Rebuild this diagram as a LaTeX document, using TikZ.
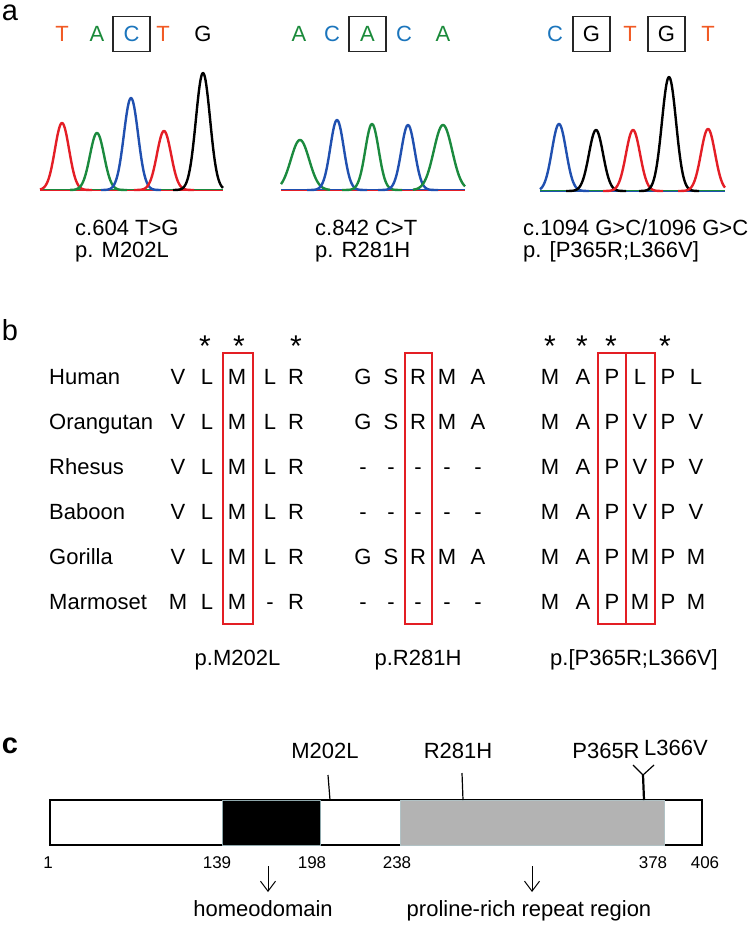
\documentclass[tikz,border=0pt]{standalone}
\usepackage{fontspec}
\setmainfont{Liberation Sans}
\usetikzlibrary{arrows.meta}
\definecolor{tcol}{HTML}{F15A24}
\definecolor{acol}{HTML}{1A8A3A}
\definecolor{ccol}{HTML}{1B75BC}
\definecolor{pkred}{HTML}{E41E26}
\definecolor{pkgreen}{HTML}{1B8A3E}
\definecolor{pkblue}{HTML}{2050B0}
\definecolor{boxred}{HTML}{E31E24}
\definecolor{domgray}{HTML}{B3B3B3}
\definecolor{edgegray}{HTML}{8FA8AC}
\newcommand\pk[7]{%
  \draw[pkline,#1] plot[domain=#5:#6,samples=70,smooth] (\x,{#7-#3*exp(-((\x-#2)/#4)*((\x-#2)/#4))});}
\newcommand\alrow[3]{%
  \node[lt,anchor=west] (sp#1) at (49,#2) {#1};
  \foreach \ch [count=\c from 0] in {#3} {
    \pgfmathsetmacro\xx{{178,207,237,270,296,363,391,418,447,478,550,583,612,640,668,696}[\c]}
    \node[lt] (#1-\c) at (\xx,#2) {\ch};
  }}
\begin{document}
\begin{tikzpicture}[x=1pt,y=-1pt,
  lt/.style={inner sep=0pt,text height=15.75pt,text depth=0pt,font=\fontsize{22}{26}\selectfont},
  txt/.style={inner sep=0pt,anchor=base,font=\fontsize{22}{26}\selectfont},
  num/.style={inner sep=0pt,anchor=base,font=\fontsize{17}{20}\selectfont},
  plabel/.style={inner sep=0pt,anchor=base,font=\fontsize{29}{34}\selectfont},
  ast/.style={inner sep=0pt,anchor=base,font=\fontsize{30}{34}\selectfont},
  seqbox/.style={lt,draw=black!85,line width=1.8pt,minimum width=37pt,minimum height=35pt},
  pkline/.style={line width=2.4pt,line join=round},
  redbox/.style={draw=boxred,line width=1.8pt},
  tick/.style={line width=1.2pt},
  arr/.style={line width=1pt,-{Straight Barb[length=10pt,width=15pt]}}]
\useasboundingbox (0,0) rectangle (751,925);

% ---------------- panel a ----------------
\node[plabel] (la) at (10,21) {a};
% sequence 1
\node[lt,text=tcol] (s1a) at (62,34) {T};
\node[lt,text=acol] (s1b) at (97,34) {A};
\node[seqbox,text=ccol] (s1c) at (131.5,34) {C};
\node[lt,text=tcol] (s1d) at (163,34) {T};
\node[lt] (s1e) at (203,34) {G};
% sequence 2
\node[lt,text=acol] (s2a) at (299,34) {A};
\node[lt,text=ccol] (s2b) at (332,34) {C};
\node[seqbox,text=acol] (s2c) at (367.5,34) {A};
\node[lt,text=ccol] (s2d) at (404,34) {C};
\node[lt,text=acol] (s2e) at (443,34) {A};
% sequence 3
\node[lt,text=ccol] (s3a) at (555,34) {C};
\node[seqbox] (s3b) at (591.5,34) {G};
\node[lt,text=tcol] (s3c) at (630,34) {T};
\node[seqbox] (s3d) at (666.5,34) {G};
\node[lt,text=tcol] (s3e) at (708,34) {T};

% chromatogram 1
\draw[line width=0.8pt,pkgreen] (40,189.3) -- (223,189.3);
\draw[line width=0.8pt,pkblue] (40,190.2) -- (223,190.2);
\draw[line width=0.8pt,pkred] (40,190.8) -- (223,190.8);
\pk{pkred}{62}{67}{10}{40}{92}{190}
\pk{pkgreen}{97}{57}{10}{70}{127}{190}
\pk{pkblue}{131}{92}{10}{101}{161}{190}
\pk{pkred}{164}{59}{10}{134}{194}{190}
\pk{black}{203}{117}{10}{173}{223}{190}
% chromatogram 2
\draw[line width=0.8pt,pkblue] (281,189.3) -- (465,189.3);
\draw[line width=0.8pt,pkred] (281,190.5) -- (465,190.5);
\pk{pkgreen}{300}{50}{13}{281}{330}{190}
\pk{pkblue}{337}{70}{9.5}{307}{367}{190}
\pk{pkgreen}{372}{66}{9.5}{342}{402}{190}
\pk{pkblue}{408}{65}{9.5}{378}{438}{190}
\pk{pkgreen}{443}{65}{13}{413}{465}{190}
% chromatogram 3
\draw[line width=0.8pt,pkgreen] (540,190.3) -- (725,190.3);
\draw[line width=0.8pt,pkred] (540,191) -- (725,191);
\draw[line width=0.8pt,pkblue] (540,191.6) -- (725,191.6);
\pk{pkblue}{559}{67}{10}{540}{589}{191}
\pk{black}{596}{61}{10}{566}{626}{191}
\pk{pkred}{633}{61}{10}{603}{663}{191}
\pk{black}{669}{114}{10}{639}{699}{191}
\pk{pkred}{708}{62}{10}{678}{725}{191}

\node[txt,anchor=base west] (m1a) at (75,235) {c.604 T>G};
\node[txt,anchor=base west] (m1b) at (75,257) {p. M202L};
\node[txt,anchor=base west] (m2a) at (315,235) {c.842 C>T};
\node[txt,anchor=base west] (m2b) at (315,257) {p. R281H};
\node[txt,anchor=base west] (m3a) at (523,235) {c.1094 G>C/1096 G>C};
\node[txt,anchor=base west] (m3b) at (523,257) {p. [P365R;L366V]};

% ---------------- panel b ----------------
\node[plabel] (lb) at (10,340) {b};
\foreach \xx [count=\i] in {205,239,296,550,582,611,665}
  \node[ast] (ast\i) at (\xx,356) {*};
\alrow{Human}{377}{V,L,M,L,R,G,S,R,M,A,M,A,P,L,P,L}
\alrow{Orangutan}{422}{V,L,M,L,R,G,S,R,M,A,M,A,P,V,P,V}
\alrow{Rhesus}{467}{V,L,M,L,R,-,-,-,-,-,M,A,P,V,P,V}
\alrow{Baboon}{512}{V,L,M,L,R,-,-,-,-,-,M,A,P,V,P,V}
\alrow{Gorilla}{557}{V,L,M,L,R,G,S,R,M,A,M,A,P,M,P,M}
\alrow{Marmoset}{602}{M,L,M,-,R,-,-,-,-,-,M,A,P,M,P,M}
\draw[redbox] (223,353) rectangle (253,624);
\draw[redbox] (405,353) rectangle (432,624);
\draw[redbox] (598,353) rectangle (626,624);
\draw[redbox] (626,353) rectangle (655,624);
\node[txt] (v1) at (237.5,665) {p.M202L};
\node[txt] (v2) at (418,665) {p.R281H};
\node[txt] (v3) at (634,665) {p.[P365R;L366V]};

% ---------------- panel c ----------------
\node[plabel,font=\fontsize{29}{34}\selectfont\bfseries] (lc) at (10,753) {c};
\draw[line width=1.8pt,fill=white] (50,800) rectangle (702,845);
\draw[fill=black,draw=edgegray,line width=1pt] (222,800) rectangle (320,845);
\draw[fill=domgray,draw=edgegray!70,line width=1pt] (400,800) rectangle (664,845);
\node[txt] (tM) at (325,758) {M202L};
\node[txt] (tR) at (458,758) {R281H};
\node[txt] (tP) at (606,758) {P365R};
\node[txt] (tL) at (676,755) {L366V};
\coordinate (k1a) at (328,775); \coordinate (k1b) at (330,800);
\coordinate (k2a) at (462,773); \coordinate (k2b) at (463,800);
\coordinate (k3a) at (643,775); \coordinate (k3b) at (644,800);
\coordinate (k3l) at (633,765); \coordinate (k3r) at (654,765);
\draw[tick] (k1a) -- (k1b);
\draw[tick] (k2a) -- (k2b);
\draw[line width=2.2pt] (k3a) -- (k3b);
\draw[tick] (k3l) -- (k3a) -- (k3r);
\node[num] (n1) at (48,868) {1};
\node[num] (n139) at (217,868) {139};
\node[num] (n198) at (312,868) {198};
\node[num] (n238) at (397,868) {238};
\node[num] (n378) at (653,868) {378};
\node[num] (n406) at (705,868) {406};
\coordinate (ha) at (268,866); \coordinate (hb) at (268,892);
\coordinate (pa) at (532,866); \coordinate (pb) at (532,892);
\draw[arr] (ha) -- (hb);
\draw[arr] (pa) -- (pb);
\node[txt] (homeo) at (263,916) {homeodomain};
\node[txt] (prol) at (529,916) {proline-rich repeat region};
\end{tikzpicture}
\end{document}
